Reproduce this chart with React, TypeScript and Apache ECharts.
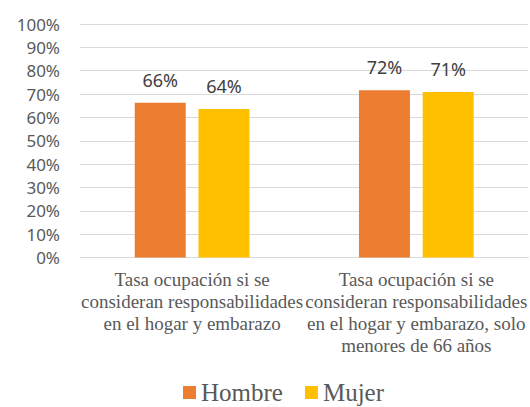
import React, { useEffect, useRef } from "react";
import * as echarts from "echarts";

const categories = [
  "Tasa ocupación si se\nconsideran responsabilidades\nen el hogar y embarazo",
  "Tasa ocupación si se\nconsideran responsabilidades\nen el hogar y embarazo, solo\nmenores de 66 años",
];
const hombre = [0.663, 0.716];
const mujer = [0.636, 0.709];
const seriesNames = ["Hombre", "Mujer"];
const yMin = 0;
const yMax = 1;
const yInterval = 0.1;

export default function App() {
  const ref = useRef<HTMLDivElement>(null);
  useEffect(() => {
    document.body.style.margin = "0";
    if (!ref.current) return;
    const chart = echarts.init(ref.current, null, { renderer: "svg" });
    const label = {
      show: true,
      position: "top",
      distance: 14,
      fontFamily: "Noto Sans",
      fontSize: 18,
      color: "#404040",
      formatter: (p: any) => Math.round(p.value * 100) + "%",
    };
    chart.setOption({
      animation: false,
      backgroundColor: "#ffffff",
      grid: { left: 80, right: 0, top: 24, bottom: 149.5, containLabel: false },
      legend: {
        data: seriesNames,
        left: 183,
        top: 380,
        padding: 0,
        itemWidth: 13,
        itemHeight: 13,
        itemGap: 22,
        icon: "rect",
        textStyle: {
          fontFamily: "Liberation Serif",
          fontSize: 25,
          lineHeight: 25,
          color: "#595959",
        },
      },
      xAxis: {
        type: "category",
        data: categories,
        axisLine: { lineStyle: { color: "#D9D9D9", width: 1 } },
        axisTick: { show: false },
        axisLabel: {
          interval: 0,
          margin: 11,
          fontFamily: "Liberation Serif",
          fontSize: 19,
          lineHeight: 22,
          color: "#595959",
          align: "center",
        },
      },
      yAxis: {
        type: "value",
        min: yMin,
        max: yMax,
        interval: yInterval,
        axisLine: { show: false },
        axisTick: { show: false },
        splitLine: { lineStyle: { color: "#D9D9D9", width: 1 } },
        axisLabel: {
          margin: 20,
          fontFamily: "Noto Sans",
          fontSize: 17,
          color: "#595959",
          formatter: (v: number) => Math.round(v * 100) + "%",
        },
      },
      series: [
        {
          name: seriesNames[0],
          type: "bar",
          data: hombre,
          barWidth: 51,
          barGap: "25%",
          itemStyle: { color: "#ED7D31" },
          label,
        },
        {
          name: seriesNames[1],
          type: "bar",
          data: mujer,
          barWidth: 51,
          barGap: "25%",
          itemStyle: { color: "#FFC000" },
          label,
        },
      ],
    });
    return () => chart.dispose();
  }, []);
  return <div ref={ref} style={{ width: 530, height: 407 }} />;
}
